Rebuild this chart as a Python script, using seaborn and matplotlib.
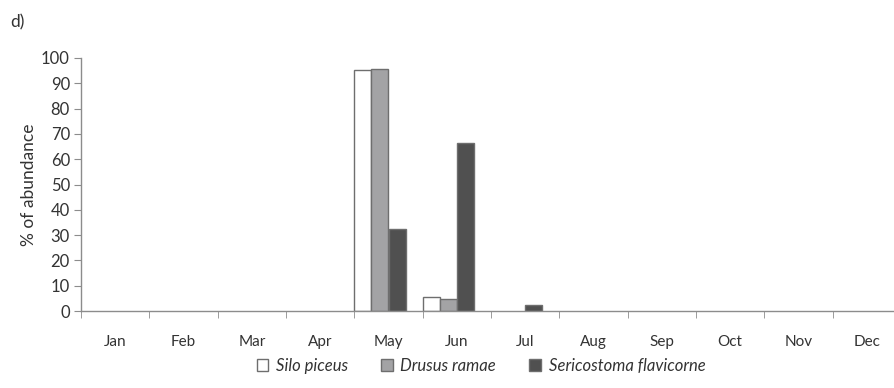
import pandas as pd
import seaborn as sns
import matplotlib.pyplot as plt
from matplotlib.patches import Patch
from matplotlib.ticker import FixedLocator

# monthly % of abundance per species
months = ["Jan", "Feb", "Mar", "Apr", "May", "Jun", "Jul", "Aug", "Sep", "Oct", "Nov", "Dec"]
silo = [0, 0, 0, 0, 95.2, 5.6, 0, 0, 0, 0, 0, 0]
drusus = [0, 0, 0, 0, 95.7, 4.9, 0, 0, 0, 0, 0, 0]
serico = [0, 0, 0, 0, 32.4, 66.3, 2.2, 0, 0, 0, 0, 0]
species = ["Silo piceus", "Drusus ramae", "Sericostoma flavicorne"]

rows = []
for sp, vals in zip(species + ["_pad"], [silo, drusus, serico, [0] * 12]):
    for m, v in zip(months, vals):
        rows.append({"month": m, "species": sp, "value": v})
df = pd.DataFrame(rows)

sns.set_style("white")
plt.rcParams['font.family'] = ['Lato', 'DejaVu Sans']

fig = plt.figure(figsize=(8.95, 3.88), dpi=100)
ax = fig.add_axes([81 / 895, 77 / 388, 820 / 895, 253 / 388])

edge = "#6e6e6e"
pal = {"Silo piceus": "#ffffff", "Drusus ramae": "#a3a3a5",
       "Sericostoma flavicorne": "#505050", "_pad": "#ffffff"}
sns.barplot(data=df, x="month", y="value", hue="species", order=months,
            hue_order=species + ["_pad"], palette=pal, width=1.0, gap=0,
            edgecolor=edge, linewidth=1.0, legend=False, ax=ax)

for p in ax.patches:
    if p.get_height() == 0:
        p.set_visible(False)

ax.set_xlim(-0.5, 11.5)
ax.set_ylim(0, 100)
ax.set_yticks(range(0, 101, 10))
ax.set_xlabel("")
ax.set_ylabel("% of abundance", fontsize=12.5, color="#333333", labelpad=3)

for s in ["top", "right"]:
    ax.spines[s].set_visible(False)
for s in ["left", "bottom"]:
    ax.spines[s].set_color("#8c8c8c")
    ax.spines[s].set_linewidth(1)

ax.tick_params(axis="y", left=True, length=5, color="#8c8c8c", labelsize=12,
               labelcolor="#333333", pad=3)
ax.tick_params(axis="x", which="major", length=0, labelsize=11,
               labelcolor="#333333", pad=17)
ax.xaxis.set_minor_locator(FixedLocator([i - 0.5 for i in range(13)]))
ax.tick_params(axis="x", which="minor", bottom=True, length=5, color="#8c8c8c")

fig.text(10 / 895, 1 - 22 / 388, "d)", fontsize=12.5, color="#333333", va="center")

handles = [Patch(facecolor=pal[s], edgecolor=edge, linewidth=1.0) for s in species]
ax.legend(handles=handles, labels=species, loc="center",
          bbox_to_anchor=(481 / 895, 1 - 366 / 388), bbox_transform=fig.transFigure,
          ncol=3, frameon=False, handlelength=0.7, handleheight=0.7,
          handletextpad=0.45, columnspacing=2.0,
          prop={"style": "italic", "size": 12})
for t in ax.get_legend().get_texts():
    t.set_color("#333333")

fig.savefig("out.png", dpi=100)
